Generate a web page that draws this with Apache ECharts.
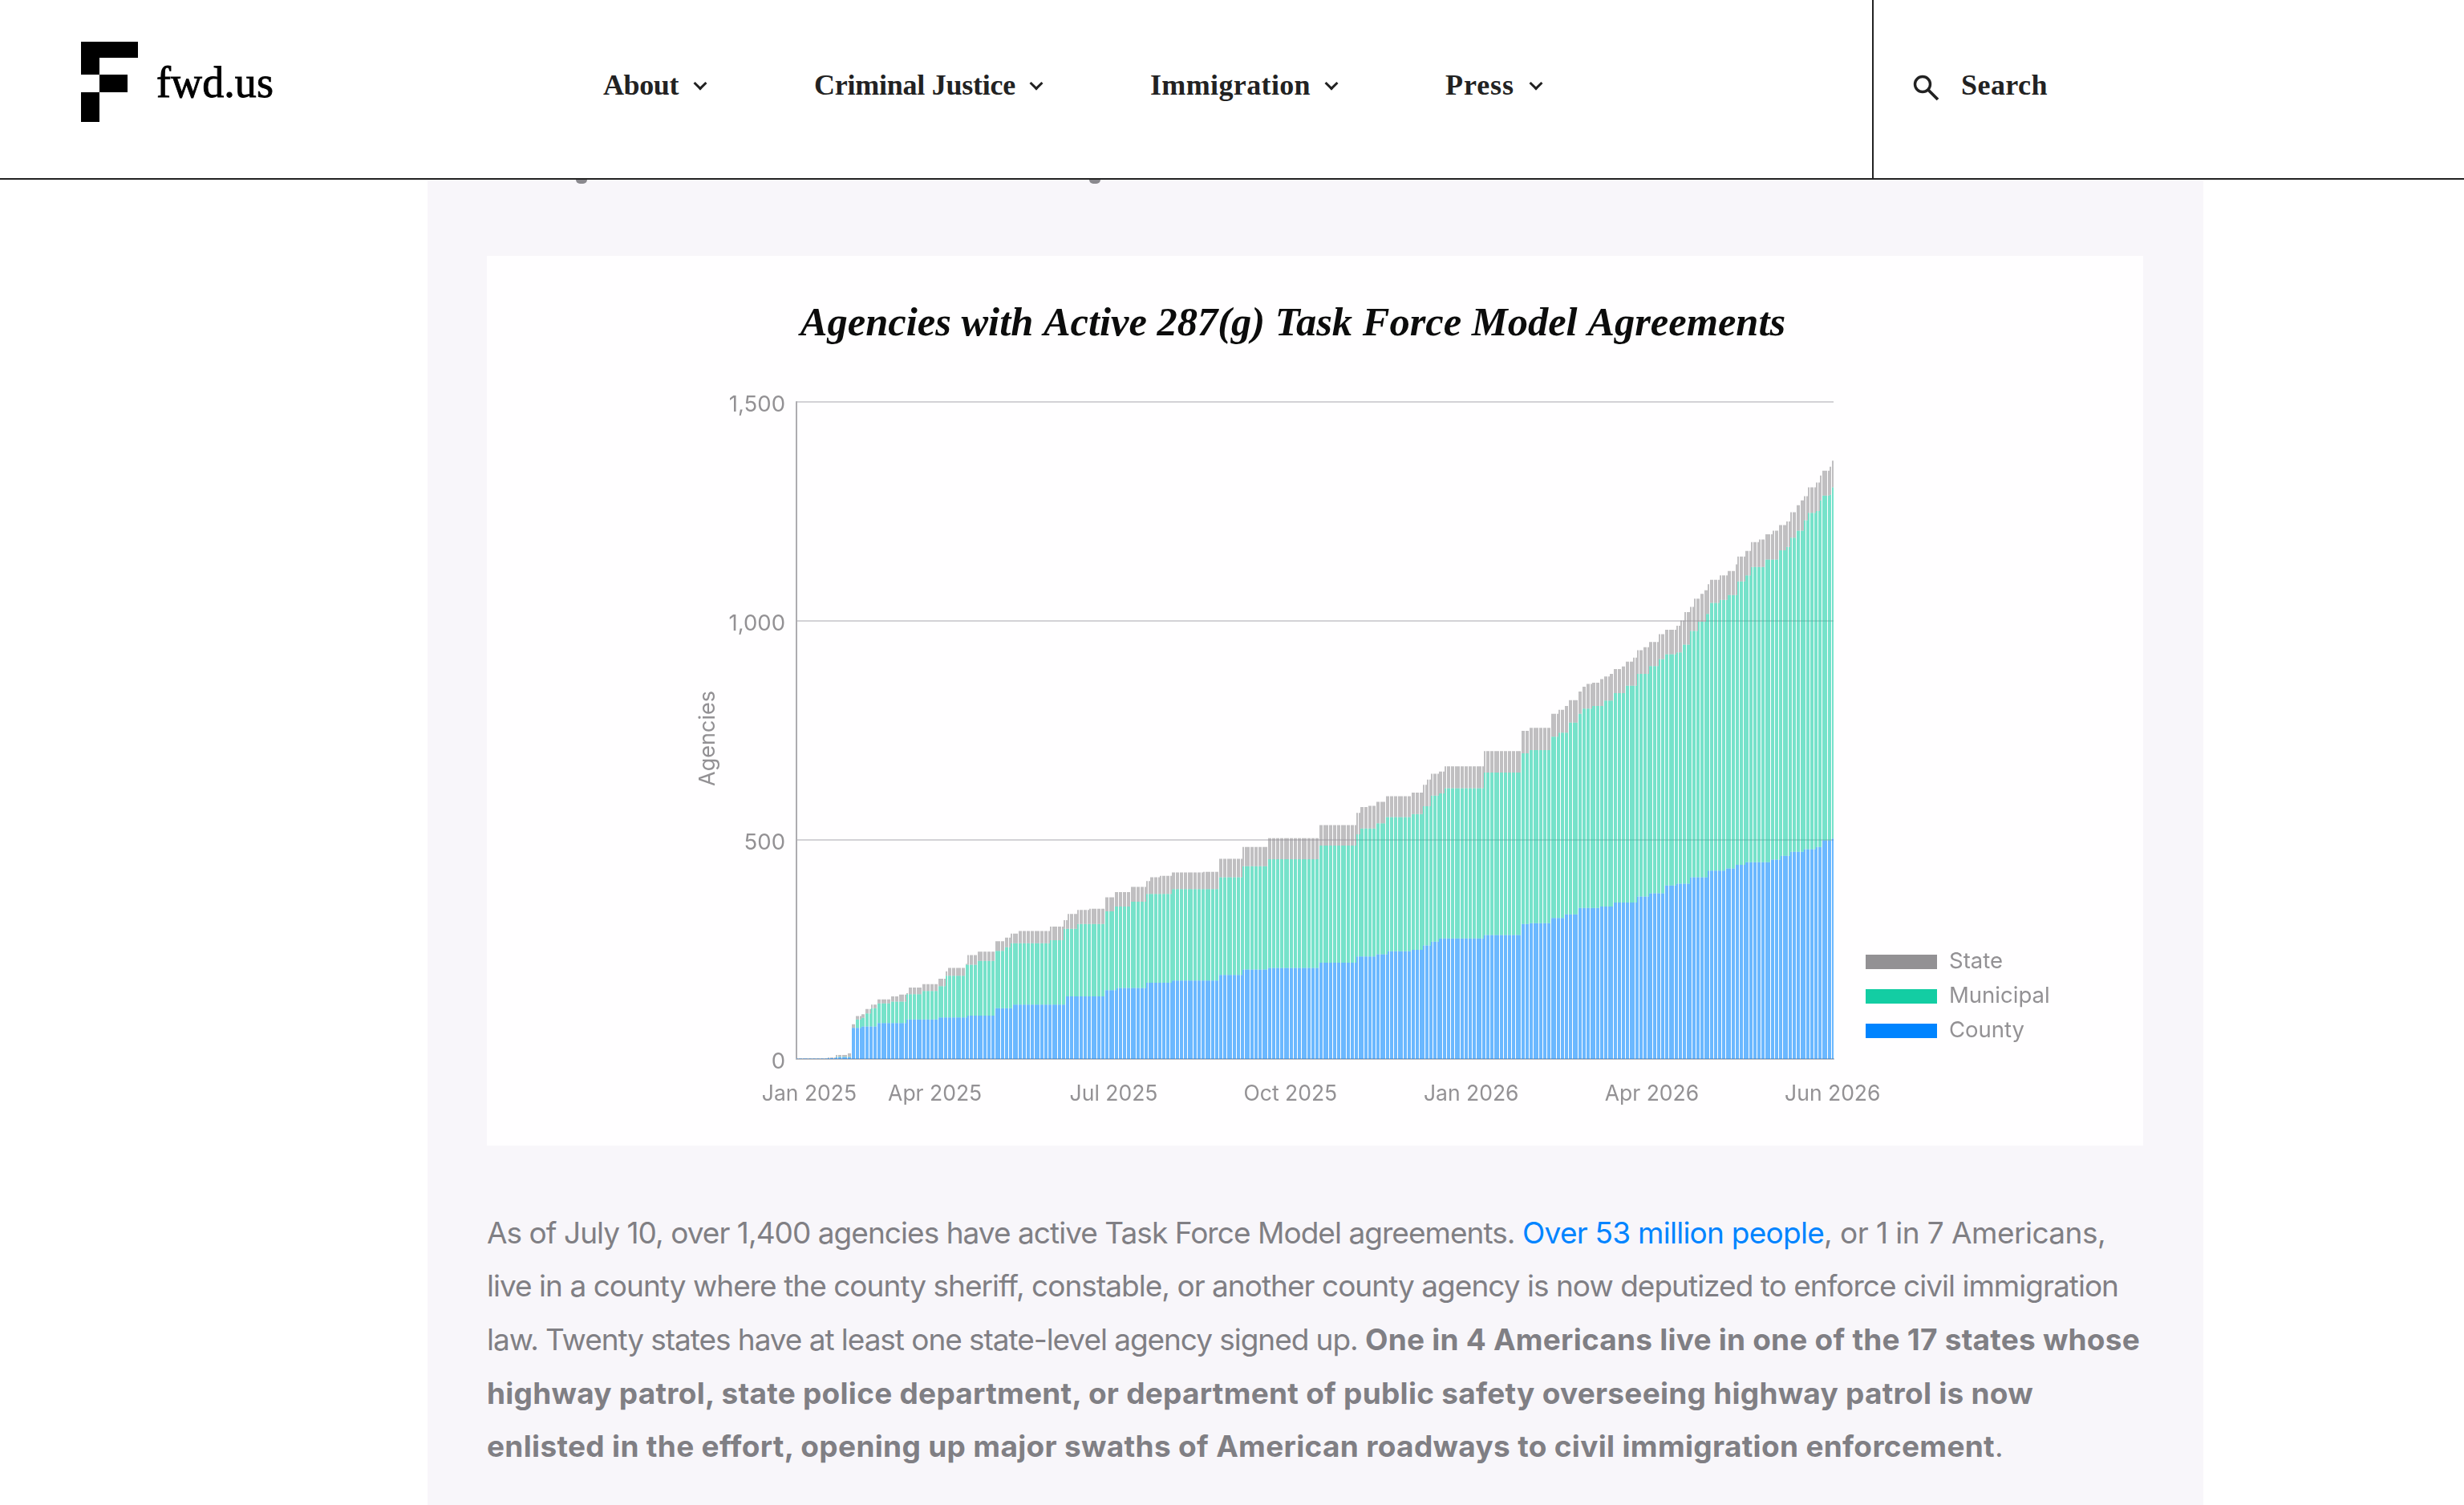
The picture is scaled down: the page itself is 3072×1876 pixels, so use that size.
<!DOCTYPE html>
<html><head><meta charset="utf-8">
<script src="https://cdn.jsdelivr.net/npm/echarts@6/dist/echarts.min.js"></script>
<style>
html,body{margin:0;padding:0;background:#fff;width:3072px;height:1876px;overflow:hidden}
#panel{position:absolute;left:533px;top:224px;width:2214px;height:1652px;background:#f8f6fa}
#chart{position:absolute;left:607px;top:319px;width:2065px;height:1109px}
#head{position:absolute;left:0;top:0;width:3072px;height:222px;background:#fff;border-bottom:2px solid #222}
#head div,#head span{position:absolute}
.b{background:#000}
.nav{font-family:"Liberation Serif",serif;font-weight:700;font-size:36px;color:#222;top:85px;line-height:42px;white-space:nowrap}
.chev{width:9px;height:9px;border-right:3px solid #222;border-bottom:3px solid #222;transform:rotate(45deg);top:98px}
#vline{left:2334px;top:0;width:2px;height:222px;background:#222}
#logoT{font-family:"Liberation Serif",serif;font-weight:400;font-size:54px;color:#000;left:195px;top:72px;line-height:62px;-webkit-text-stroke:.9px #000}
.l{position:absolute;left:607px;font-family:Inter,sans-serif;font-size:37px;line-height:46px;color:#807f84;white-space:pre}
.l b{font-weight:700}.l a{color:#0084ff;text-decoration:none}
.desc{position:absolute;top:224px;width:14px;height:5px;background:#8a898e;border-radius:0 0 7px 7px}
</style></head><body>
<div id="panel"></div>
<div class="desc" style="left:718px"></div><div class="desc" style="left:1358px"></div>
<div id="chart"></div>
<div class="l" style="top:1514px"><span class="fit" data-w="1291">As of July 10, over 1,400 agencies have active Task Force Model agreements. </span><a class="fit" data-w="376">Over 53 million people</a><span class="fit" data-w="351">, or 1 in 7 Americans,</span></div>
<div class="l" style="top:1580px"><span class="fit" data-w="2034">live in a county where the county sheriff, constable, or another county agency is now deputized to enforce civil immigration</span></div>
<div class="l" style="top:1647px"><span class="fit" data-w="1095">law. Twenty states have at least one state-level agency signed up. </span><b class="fit" data-w="966">One in 4 Americans live in one of the 17 states whose</b></div>
<div class="l" style="top:1714px"><b class="fit" data-w="1928">highway patrol, state police department, or department of public safety overseeing highway patrol is now</b></div>
<div class="l" style="top:1780px"><b class="fit" data-w="1880">enlisted in the effort, opening up major swaths of American roadways to civil immigration enforcement</b><span>.</span></div>
<div id="head">
  <div class="b" style="left:101px;top:52px;width:71px;height:20px"></div>
  <div class="b" style="left:101px;top:72px;width:23px;height:21px"></div>
  <div class="b" style="left:124px;top:93px;width:35px;height:22px"></div>
  <div class="b" style="left:101px;top:115px;width:23px;height:37px"></div>
  <span id="logoT" class="fit" data-w="146">fwd.us</span>
  <span class="nav fit" data-w="94" style="left:752px">About</span><div class="chev" style="left:867px"></div>
  <span class="nav fit" data-w="251" style="left:1015px">Criminal Justice</span><div class="chev" style="left:1286px"></div>
  <span class="nav fit" data-w="200" style="left:1434px">Immigration</span><div class="chev" style="left:1654px"></div>
  <span class="nav fit" data-w="86" style="left:1802px">Press</span><div class="chev" style="left:1909px"></div>
  <div id="vline"></div>
  <svg style="position:absolute;left:2384px;top:92px" width="36" height="36" viewBox="0 0 36 36"><circle cx="13" cy="13" r="9.5" fill="none" stroke="#222" stroke-width="3.4"/><line x1="20" y1="20" x2="32" y2="32" stroke="#222" stroke-width="3.8"/></svg>
  <span class="nav fit" data-w="108" style="left:2445px">Search</span>
</div>
<script>
// Stack tops: day index (from 21 Jan 2025) where each level begins, and its level.
const countyDays = [0,16,20,28,33,41,56,72,87,101,110,137,157,163,178,191,215,227,240,266,285,295,301,313,319,323,327,350,369,373,384,391,398,409,416,428,434,442,448,455,464,473,478,483,496,501,506,513,519,522,527];
const countyTop  = [1,2,4,71,74,82,90,95,99,116,124,143,157,162,174,179,192,204,208,220,234,239,246,249,259,268,275,283,308,310,322,330,345,348,357,371,378,396,400,415,430,435,443,449,455,464,473,479,484,499,503];

const municipalDays = [0,16,20,28,30,33,35,38,41,48,56,64,72,76,86,92,101,106,109,129,136,143,157,162,170,178,191,215,227,240,266,285,287,295,300,313,319,323,327,330,350,369,373,384,388,393,398,400,405,411,416,422,428,434,439,442,448,451,455,459,463,465,470,474,479,483,486,493,500,504,506,509,513,515,519,521,522,526,527];
const municipalTop  = [1,2,5,71,90,94,104,116,127,131,148,155,166,190,215,224,247,255,264,271,297,308,337,348,359,377,388,415,440,456,487,513,526,538,552,559,577,601,606,618,654,698,705,736,745,768,788,800,806,818,835,852,879,897,913,924,928,946,977,998,1016,1041,1048,1059,1090,1104,1123,1140,1161,1169,1190,1206,1230,1247,1251,1275,1286,1288,1305];

const stateDays = [0,16,20,26,28,30,33,35,38,41,48,52,56,57,64,72,76,77,86,87,92,101,106,109,113,129,136,138,143,149,157,162,170,178,180,185,191,207,215,227,240,266,285,287,291,295,300,313,319,321,323,327,330,350,369,373,384,388,391,393,398,400,402,405,409,411,414,416,420,422,426,428,431,434,439,442,448,450,452,455,457,460,462,464,465,470,474,478,479,483,486,490,493,497,500,504,506,509,511,513,515,519,521,522,526,527];
const stateTop  = [1,3,9,13,79,98,102,114,124,136,143,147,150,163,171,183,200,208,217,237,245,269,277,286,292,302,317,331,340,343,369,381,393,406,415,418,426,427,457,484,504,534,562,575,578,587,600,608,626,638,651,656,668,703,749,756,788,797,806,819,839,850,856,859,867,873,879,890,896,907,916,933,940,952,970,980,989,1001,1020,1032,1051,1062,1070,1084,1094,1104,1114,1129,1147,1160,1180,1186,1198,1206,1219,1227,1248,1264,1275,1285,1305,1316,1332,1343,1352,1366];

const dayCount = 528;
const yTicks = [0,500,1000,1500];
const tickDays = [6,70,161,251,343,435,527];
const tickLabels = ["Jan 2025","Apr 2025","Jul 2025","Oct 2025","Jan 2026","Apr 2026","Jun 2026"];

function hold(days, tops){
  const out=[]; let k=0;
  for(let d=0;d<dayCount;d++){ while(k+1<days.length && days[k+1]<=d) k++; out.push(tops[k]); }
  return out;
}
const categories=[]; for(let d=0;d<dayCount;d++){ const t=new Date(Date.UTC(2025,0,21+d)); categories.push(t.toISOString().slice(0,10)); }
const county = hold(countyDays,countyTop);
const lineM  = hold(municipalDays,municipalTop);
const lineS  = hold(stateDays,stateTop);
const municipal = lineM.map((v,i)=>Math.max(0,v-county[i]));
const state = lineS.map((v,i)=>Math.max(0,v-Math.max(lineM[i],county[i])));

const tc='#939194', font='Inter, sans-serif';
const bar=(name,data,color)=>({name,type:'bar',stack:'a',data,barCategoryGap:'18%',animation:false,
  itemStyle:{color,opacity:.58},emphasis:{disabled:true}});
const chart=echarts.init(document.getElementById('chart'),null,{renderer:'canvas'});
chart.setOption({
  animation:false,backgroundColor:'#fffeff',
  title:{text:'Agencies with Active 287(g) Task Force Model Agreements',left:1000,top:55,textAlign:'center',
    textStyle:{fontFamily:'"Liberation Serif",serif',fontStyle:'italic',fontWeight:700,fontSize:50.5,color:'#0c0c0c'}},
  grid:{left:386,top:182,width:1293,height:819},
  legend:{data:['State','Municipal','County'],orient:'vertical',left:1714,top:861,itemWidth:89,itemHeight:18,itemGap:15,icon:'rect',
    selectedMode:false,itemStyle:{opacity:1},textStyle:{color:tc,fontFamily:font,fontSize:27.5,padding:[0,0,0,10]}},
  xAxis:{type:'category',data:categories,boundaryGap:true,
    axisLine:{lineStyle:{color:'#b9b8bc',width:2}},axisTick:{show:false},splitLine:{show:false},
    axisLabel:{color:tc,fontFamily:font,fontSize:26.5,margin:31,hideOverlap:false,
      interval:(i)=>tickDays.includes(i),
      formatter:(v,i)=>{const k=tickDays.indexOf(i);return k<0?'':tickLabels[k];}}},
  yAxis:{type:'value',min:0,max:1500,interval:500,
    name:'Agencies',nameLocation:'middle',nameGap:97,nameTextStyle:{color:tc,fontFamily:font,fontSize:27,padding:[0,20,0,0]},
    axisLine:{show:true,lineStyle:{color:'#adacb0',width:2}},axisTick:{show:false},
    splitLine:{lineStyle:{color:'#d3d2d6',width:2}},
    axisLabel:{margin:14,formatter:v=>yTicks.includes(v)?'{t|'+v.toLocaleString('en-US')+'}':'',
      rich:{t:{color:tc,fontFamily:font,fontSize:27.5,padding:[7,0,0,0]}}}},
  series:[bar('County',county,'#0084ff'),bar('Municipal',municipal,'#13cda3'),bar('State',state,'#939194')]
});
// The source's thin daily bars sit on whole pixels: snap the laid-out rects the same way.
chart.getZr().storage.getDisplayList(true).forEach(el=>{
  if(el.type==='rect' && el.shape && el.shape.width>1 && el.shape.width<2.4){
    el.setShape({x:Math.round(el.shape.x),width:2});
  }
});
chart.getZr().refreshImmediately();
// Fit each text run to its measured width.
document.querySelectorAll('.fit').forEach(e=>{
  const r=document.createRange(); r.selectNodeContents(e);
  const w=r.getBoundingClientRect().width, n=e.textContent.length;
  e.style.letterSpacing=((+e.dataset.w-w)/n)+'px';
});
</script>
</body></html>
